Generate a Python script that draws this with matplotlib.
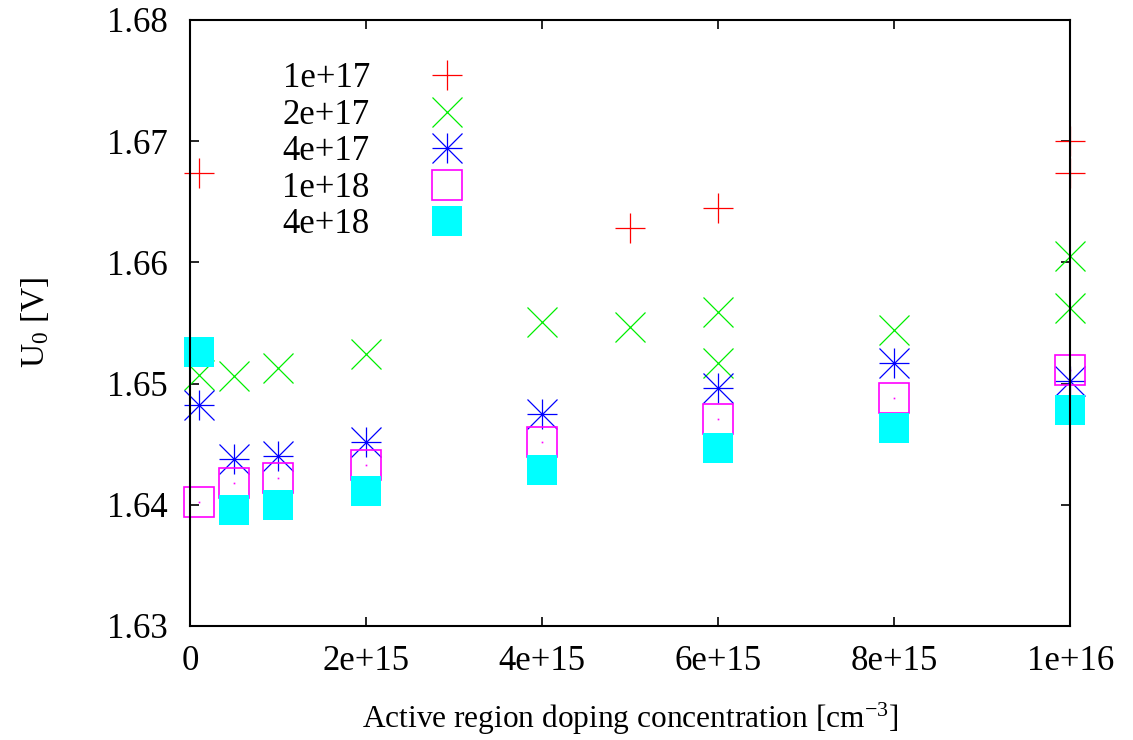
import matplotlib
matplotlib.use("Agg")
import matplotlib.pyplot as plt
from matplotlib.lines import Line2D

plt.rcParams["font.family"] = ["Liberation Serif", "DejaVu Serif"]
plt.rcParams["mathtext.default"] = "regular"

# data (x in cm^-3, y in V)
x_1e17 = [1e14, 5e15, 6e15, 1e16, 1e16]
y_1e17 = [1.6674, 1.6628, 1.6645, 1.6700, 1.6674]

x_2e17 = [1e14, 5e14, 1e15, 2e15, 4e15, 5e15, 6e15, 6e15, 8e15, 1e16, 1e16]
y_2e17 = [1.6507, 1.6506, 1.6513, 1.6524, 1.6551, 1.6547, 1.6559, 1.6517, 1.6544, 1.6605, 1.6562]

x_4e17 = [1e14, 5e14, 1e15, 2e15, 4e15, 6e15, 8e15, 1e16]
y_4e17 = [1.6482, 1.6438, 1.6440, 1.6452, 1.6475, 1.6496, 1.6517, 1.6502]

x_1e18 = [1e14, 5e14, 1e15, 2e15, 4e15, 6e15, 8e15, 1e16]
y_1e18 = [1.6402, 1.6418, 1.6422, 1.6433, 1.6452, 1.6471, 1.6488, 1.6511]

x_4e18 = [1e14, 5e14, 1e15, 2e15, 4e15, 6e15, 8e15, 1e16]
y_4e18 = [1.6526, 1.6396, 1.6400, 1.6411, 1.6429, 1.6447, 1.6463, 1.6478]

labels = ["1e+17", "2e+17", "4e+17", "1e+18", "4e+18"]
x_ticks = [0, 2e15, 4e15, 6e15, 8e15, 1e16]
x_tick_labels = ["0", "2e+15", "4e+15", "6e+15", "8e+15", "1e+16"]
y_ticks = [1.63, 1.64, 1.65, 1.66, 1.67, 1.68]

MS = 21.5
LW = 0.9

fig = plt.figure(figsize=(11.33, 7.4), dpi=100)
ax = fig.add_axes([0.1677, 0.1541, 0.7771, 0.8189])

# plot series in gnuplot order
ax.plot(x_1e17, y_1e17, ls="none", marker="+", ms=MS, mew=LW, color="#ff0000", clip_on=False)
ax.plot(x_2e17, y_2e17, ls="none", marker="x", ms=MS, mew=LW, color="#00ee00", clip_on=False)
ax.plot(x_4e17, y_4e17, ls="none", marker="+", ms=MS, mew=LW, color="#0000ff", clip_on=False)
ax.plot(x_4e17, y_4e17, ls="none", marker="x", ms=MS, mew=LW, color="#0000ff", clip_on=False)
ax.plot(x_1e18, y_1e18, ls="none", marker="s", ms=MS, mew=1.2, mfc="none", mec="#ff00ff", clip_on=False)
ax.plot(x_1e18, y_1e18, ls="none", marker="s", ms=1.2, mew=0, color="#ff00ff", clip_on=False)
ax.plot(x_4e18, y_4e18, ls="none", marker="s", ms=MS, mew=0, color="#00ffff", clip_on=False)

ax.set_xlim(0, 1e16)
ax.set_ylim(1.63, 1.68)
ax.set_xticks(x_ticks)
ax.set_xticklabels(x_tick_labels)
ax.set_yticks(y_ticks)
ax.set_yticklabels([f"{v:.2f}" for v in y_ticks])

ax.tick_params(direction="in", length=6.5, width=1.2, labelsize=25,
               top=True, right=True)
ax.tick_params(axis="x", pad=14)
ax.tick_params(axis="y", pad=16)
for s in ax.spines.values():
    s.set_linewidth(1.5)

ax.set_xlabel("Active region doping concentration [cm$^{-3}$]", fontsize=22.6, labelpad=16)
ax.set_ylabel("U$_0$ [V]", fontsize=24, labelpad=40)

legend_handles = [Line2D([], [], ls="none", marker="+", ms=MS, mew=LW, color="#ff0000"),
                  Line2D([], [], ls="none", marker="x", ms=MS, mew=LW, color="#00ee00"),
                  (Line2D([], [], ls="none", marker="+", ms=MS, mew=LW, color="#0000ff"),
                   Line2D([], [], ls="none", marker="x", ms=MS, mew=LW, color="#0000ff")),
                  Line2D([], [], ls="none", marker="s", ms=MS, mew=1.2, mfc="none", mec="#ff00ff"),
                  Line2D([], [], ls="none", marker="s", ms=MS, mew=0, color="#00ffff")]
ax.legend(legend_handles, labels, loc="upper left", bbox_to_anchor=(0.105, 0.93),
          frameon=False, markerfirst=False, fontsize=25, handlelength=1.5,
          handletextpad=1.47, labelspacing=0.1, borderpad=0, borderaxespad=0)

fig.savefig("out.png", dpi=100)
